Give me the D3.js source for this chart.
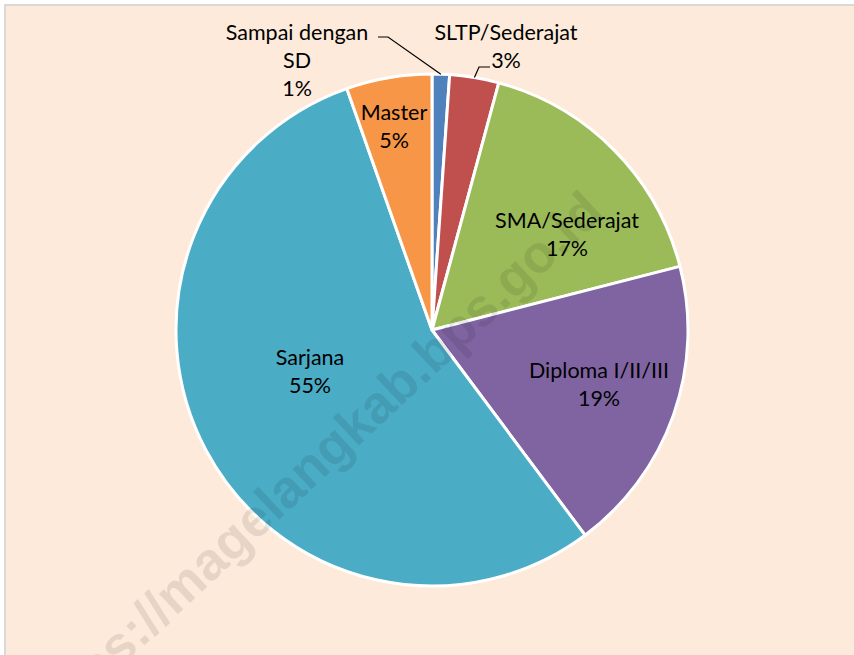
<!DOCTYPE html>
<html>
<head>
<meta charset="utf-8">
<script src="https://cdn.jsdelivr.net/npm/d3@7"></script>
<style>
  body { margin: 0; background: #ffffff; }
  svg { display: block; }
</style>
</head>
<body>
<div id="chart"></div>
<script>
// Data (share of education level, %)
const categories = ["Sampai dengan SD", "SLTP/Sederajat", "SMA/Sederajat", "Diploma I/II/III", "Sarjana", "Master"];
const values = [1.1, 3.1, 16.8, 18.8, 54.8, 5.4];
const labelLines = [["Sampai dengan", "SD", "1%"], ["SLTP/Sederajat", "3%"], ["SMA/Sederajat", "17%"],
                    ["Diploma I/II/III", "19%"], ["Sarjana", "55%"], ["Master", "5%"]];
const colors = ["#4F81BD", "#C0504D", "#9BBB59", "#8064A2", "#4BACC6", "#F79646"];

const width = 854, height = 655;
const cx = 432, cy = 330, radius = 256;

const svg = d3.select("#chart").append("svg")
    .attr("width", width)
    .attr("height", height);

// Chart area background with border
svg.append("rect")
    .attr("x", 5).attr("y", 5)
    .attr("width", width + 10).attr("height", height + 10)
    .attr("fill", "#FDEADA")
    .attr("stroke", "#D9D9D9")
    .attr("stroke-width", 2);

const g = svg.append("g").attr("transform", `translate(${cx},${cy})`);

const pie = d3.pie().sort(null).value(d => d)(values);
const arc = d3.arc().innerRadius(0).outerRadius(radius);

g.selectAll("path.slice")
    .data(pie)
    .enter().append("path")
    .attr("class", "slice")
    .attr("d", arc)
    .attr("fill", (d, i) => colors[i])
    .attr("stroke", "#ffffff")
    .attr("stroke-width", 3)
    .attr("stroke-linejoin", "round");

// Label positions (relative to the pie centre) as placed by the original chart
const labelPos = [[-135, -270], [74, -284], [135, -96], [167, 54], [-122, 41], [-38, -204]];
const lineH = 28;

const font = "Lato, 'Open Sans', sans-serif";
labelLines.forEach((lines, i) => {
    const [lx, ly] = labelPos[i];
    const t = g.append("text")
        .attr("text-anchor", "middle")
        .attr("font-family", font)
        .attr("font-size", 21.5)
        .attr("fill", "#000");
    lines.forEach((s, k) => {
        t.append("tspan")
            .attr("x", lx)
            .attr("y", ly + (k - (lines.length - 1) / 2) * lineH + 7.5)
            .text(s);
    });
});

// Leader lines for the two small outside slices
function edgePoint(d) {
    const a = (d.startAngle + d.endAngle) / 2;
    return [radius * Math.sin(a), -radius * Math.cos(a)];
}
const leaders = [
    {i: 0, pts: [[-54, -293], [-44, -293]]},
    {i: 1, pts: [[58, -263], [47, -263]]}
];
leaders.forEach(l => {
    const p = l.pts.concat([edgePoint(pie[l.i])]);
    g.append("path")
        .attr("d", d3.line()(p))
        .attr("fill", "none")
        .attr("stroke", "#000")
        .attr("stroke-width", 1.2);
});

// Watermark
svg.append("text")
    .attr("transform", "translate(606,215) rotate(-43)")
    .attr("text-anchor", "end")
    .attr("font-family", "'Liberation Sans', Arial, sans-serif")
    .attr("font-weight", "bold")
    .attr("font-size", 53)
    .attr("fill", "#000")
    .attr("fill-opacity", 0.09)
    .text("https://magelangkab.bps.go.id");
</script>
</body>
</html>
